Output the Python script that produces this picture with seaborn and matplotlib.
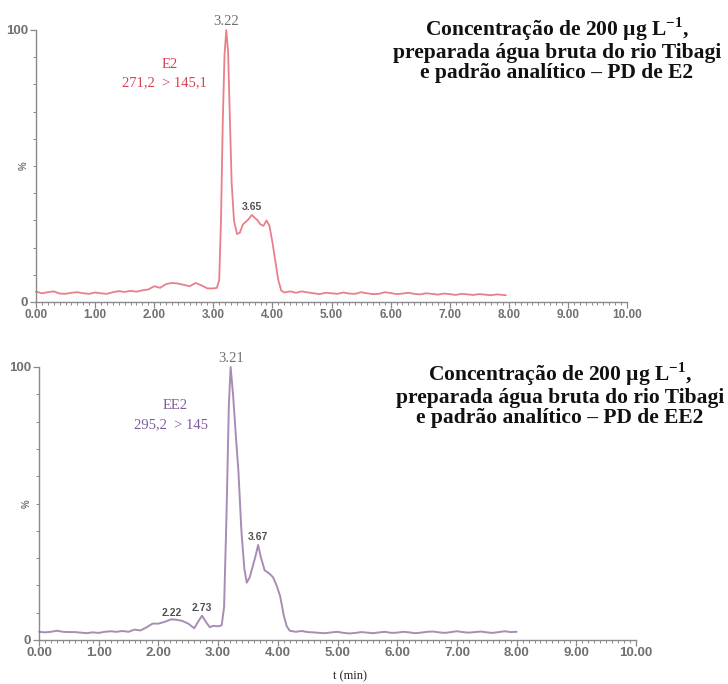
import matplotlib
matplotlib.use("Agg")
import matplotlib.pyplot as plt
from matplotlib.ticker import MultipleLocator, FixedLocator
import seaborn as sns
import pandas as pd

# E2 chromatogram, transition 271,2 > 145,1 (time in min, relative intensity in %)
e2_time = [0.00, 0.10, 0.20, 0.30, 0.40, 0.50, 0.60, 0.70, 0.80, 0.90,
           1.00, 1.10, 1.20, 1.30, 1.40, 1.50, 1.60, 1.70, 1.80, 1.90,
           2.00, 2.10, 2.20, 2.30, 2.40, 2.50, 2.60, 2.70, 2.80, 2.90,
           3.00, 3.06, 3.10, 3.13, 3.16, 3.19, 3.22, 3.25, 3.28, 3.31,
           3.35, 3.40, 3.45, 3.50, 3.55, 3.60, 3.65, 3.70, 3.75, 3.80,
           3.85, 3.90, 3.95, 4.00, 4.05, 4.10, 4.15, 4.20, 4.30, 4.40,
           4.50, 4.60, 4.70, 4.80, 4.90, 5.00, 5.10, 5.20, 5.30, 5.40,
           5.50, 5.60, 5.70, 5.80, 5.90, 6.00, 6.10, 6.20, 6.30, 6.40,
           6.50, 6.60, 6.70, 6.80, 6.90, 7.00, 7.10, 7.20, 7.30, 7.40,
           7.50, 7.60, 7.70, 7.80, 7.90, 7.95]
e2_signal = [3.8, 3.2, 3.6, 3.9, 3.1, 3.0, 3.4, 3.6, 3.2, 3.0,
             3.5, 3.2, 3.0, 3.6, 4.0, 3.7, 4.1, 3.8, 4.3, 4.6,
             5.8, 5.2, 6.6, 7.0, 6.8, 6.3, 5.8, 7.0, 6.1, 5.0,
             5.0, 5.2, 8.0, 30.0, 66.0, 91.0, 100.0, 92.0, 68.0, 44.0,
             30.0, 25.0, 25.5, 28.5, 29.5, 30.5, 32.0, 31.0, 30.0, 28.5,
             28.0, 30.0, 28.0, 22.0, 15.0, 8.0, 4.2, 3.5, 3.9, 3.4,
             3.9, 3.5, 3.2, 2.9, 3.4, 3.2, 3.0, 3.5, 3.1, 3.0,
             3.6, 3.2, 2.9, 3.0, 3.6, 3.3, 2.9, 3.1, 3.4, 3.0,
             2.8, 3.2, 3.0, 2.7, 3.1, 2.9, 2.6, 3.0, 2.8, 2.6,
             2.9, 2.7, 2.5, 2.8, 2.6, 2.5]

# EE2 chromatogram, transition 295,2 > 145
ee2_time = [0.00, 0.10, 0.20, 0.30, 0.40, 0.50, 0.60, 0.70, 0.80, 0.90,
            1.00, 1.10, 1.20, 1.30, 1.40, 1.50, 1.60, 1.70, 1.80, 1.90,
            2.00, 2.10, 2.22, 2.30, 2.40, 2.50, 2.60, 2.66, 2.73, 2.80,
            2.86, 2.92, 3.00, 3.06, 3.10, 3.14, 3.18, 3.21, 3.25, 3.30,
            3.34, 3.39, 3.44, 3.48, 3.53, 3.58, 3.63, 3.67, 3.72, 3.78,
            3.85, 3.92, 3.98, 4.04, 4.10, 4.15, 4.20, 4.30, 4.40, 4.50,
            4.60, 4.70, 4.80, 4.90, 5.00, 5.10, 5.20, 5.30, 5.40, 5.50,
            5.60, 5.70, 5.80, 5.90, 6.00, 6.10, 6.20, 6.30, 6.40, 6.50,
            6.60, 6.70, 6.80, 6.90, 7.00, 7.10, 7.20, 7.30, 7.40, 7.50,
            7.60, 7.70, 7.80, 7.90, 8.00]
ee2_signal = [3.0, 2.8, 3.0, 3.4, 3.0, 2.9, 2.9, 2.7, 2.5, 2.8,
              2.6, 3.0, 3.2, 3.0, 3.3, 3.0, 3.8, 3.5, 4.6, 6.0,
              6.0, 6.6, 7.6, 7.4, 7.0, 6.0, 4.3, 6.5, 8.9, 6.5,
              4.7, 5.2, 5.0, 5.4, 12.0, 45.0, 86.0, 100.0, 90.0, 74.0,
              62.0, 40.0, 26.0, 21.0, 23.0, 27.0, 31.0, 34.8, 30.0, 25.5,
              24.5, 23.0, 20.0, 16.0, 9.0, 5.0, 3.4, 3.0, 3.3, 2.9,
              2.8, 2.6, 2.5, 2.8, 3.0, 2.6, 2.4, 2.6, 2.9, 2.7,
              2.5, 2.8, 3.0, 2.6, 2.7, 3.0, 2.8, 2.5, 2.7, 3.0,
              3.1, 2.8, 2.6, 2.9, 3.2, 2.9, 2.7, 2.9, 3.1, 2.8,
              2.6, 2.9, 3.2, 2.9, 3.0]

e2_peaks = [3.22, 3.65]
ee2_peaks = [2.22, 2.73, 3.21, 3.67]
x_ticks = [0, 1, 2, 3, 4, 5, 6, 7, 8, 9, 10]

panel_titles = [
    "Concentração de 200 µg L$^{\\mathbf{-1}}$,\npreparada água bruta do rio Tibagi\ne padrão analítico – PD de E2",
    "Concentração de 200 µg L$^{\\mathbf{-1}}$,\npreparada água bruta do rio Tibagi\ne padrão analítico – PD de EE2",
]

sns.set_style("ticks")
plt.rcParams["mathtext.fontset"] = "custom"
plt.rcParams["mathtext.rm"] = "Liberation Serif"
plt.rcParams["mathtext.bf"] = "Liberation Serif:bold"

SERIF = ["Liberation Serif", "DejaVu Serif"]
SANS = ["Liberation Sans", "DejaVu Sans"]
AXIS_GREY = "#8a8a8a"
TICK_GREY = "#707070"

fig = plt.figure(figsize=(7.28, 6.84), dpi=100)
ax_top = fig.add_axes([36 / 728, 1 - 302 / 684, 591 / 728, 272 / 684])
ax_bot = fig.add_axes([39 / 728, 1 - 640 / 684, 597 / 728, 273 / 684])

df_e2 = pd.DataFrame({"t": e2_time, "y": e2_signal})
df_ee2 = pd.DataFrame({"t": ee2_time, "y": ee2_signal})

sns.lineplot(data=df_e2, x="t", y="y", ax=ax_top, color="#e8808a", lw=1.3,
             estimator=None, sort=False, clip_on=False)
sns.lineplot(data=df_ee2, x="t", y="y", ax=ax_bot, color="#a98cb5", lw=1.4,
             estimator=None, sort=False, clip_on=False)


def style_axis(ax, label_size, ylabel_size):
    ax.set_xlim(0, 10)
    ax.set_ylim(0, 100)
    for side in ("top", "right"):
        ax.spines[side].set_visible(False)
    for side in ("left", "bottom"):
        ax.spines[side].set_color(AXIS_GREY)
        ax.spines[side].set_linewidth(1.0)
    ax.xaxis.set_major_locator(FixedLocator(x_ticks))
    ax.xaxis.set_minor_locator(MultipleLocator(0.1))
    ax.yaxis.set_major_locator(FixedLocator([0, 100]))
    ax.yaxis.set_minor_locator(MultipleLocator(10))
    ax.set_xticklabels([f"{v:.2f}" for v in x_ticks])
    ax.set_yticklabels(["0", "100"])
    ax.tick_params(axis="both", which="both", bottom=True, left=True,
                   top=False, right=False)
    ax.tick_params(axis="both", which="major", direction="out", length=4,
                   width=0.9, color=AXIS_GREY, labelcolor=TICK_GREY,
                   labelsize=label_size, pad=1.5)
    ax.tick_params(axis="y", which="major", labelsize=ylabel_size)
    ax.tick_params(axis="both", which="minor", direction="out", length=2,
                   width=0.7, color=AXIS_GREY)
    ax.tick_params(axis="x", which="major", pad=1)
    for lab in ax.get_xticklabels() + ax.get_yticklabels():
        lab.set_fontfamily(SANS)
        lab.set_fontweight("bold")
    ax.set_xlabel("")
    ax.set_ylabel("%", fontsize=7, color=TICK_GREY, fontweight="bold",
                  family=SANS)
    ax.yaxis.set_label_coords(-0.012, 0.5)
    ax.set_facecolor("white")


style_axis(ax_top, 8.5, 9.5)
style_axis(ax_bot, 9.5, 9.5)


def value_at(times, values, t):
    return values[times.index(t)]


# main peak labels (serif, grey) and secondary peak labels (bold sans)
ax_top.annotate(f"{e2_peaks[0]:.2f}", (e2_peaks[0], value_at(e2_time, e2_signal, e2_peaks[0])),
                xytext=(0, 1.5), textcoords="offset points", ha="center", va="bottom",
                fontsize=10.5, color="#707070", family=SERIF, annotation_clip=False)
ax_top.annotate(f"{e2_peaks[1]:.2f}", (e2_peaks[1], value_at(e2_time, e2_signal, e2_peaks[1])),
                xytext=(0, 2), textcoords="offset points", ha="center", va="bottom",
                fontsize=7.5, color="#505050", family=SANS, fontweight="bold")

ax_bot.annotate(f"{ee2_peaks[2]:.2f}", (ee2_peaks[2], value_at(ee2_time, ee2_signal, ee2_peaks[2])),
                xytext=(0, 1.5), textcoords="offset points", ha="center", va="bottom",
                fontsize=10.5, color="#707070", family=SERIF, annotation_clip=False)
for pk, dy in ((ee2_peaks[0], 1), (ee2_peaks[1], 2), (ee2_peaks[3], 2)):
    ax_bot.annotate(f"{pk:.2f}", (pk, value_at(ee2_time, ee2_signal, pk)),
                    xytext=(0, dy), textcoords="offset points", ha="center", va="bottom",
                    fontsize=7.5, color="#505050", family=SANS, fontweight="bold")

# compound / transition labels
ax_top.text(2.27, 87.5, "E2", ha="center", va="center", fontsize=10.5,
            color="#d24452", family=SERIF)
ax_top.text(2.18, 80.5, "271,2  > 145,1", ha="center", va="center", fontsize=10.5,
            color="#d24452", family=SERIF)
ax_bot.text(2.28, 86, "EE2", ha="center", va="center", fontsize=10.5,
            color="#7d5d99", family=SERIF)
ax_bot.text(2.21, 78.8, "295,2  > 145", ha="center", va="center", fontsize=10.5,
            color="#7d5d99", family=SERIF)

# panel headings
fig.text(557 / 728, 1 - 15 / 684, panel_titles[0], ha="center", va="top",
         fontsize=15.5, fontweight="bold", family=SERIF, linespacing=1.0,
         color="#111111")
fig.text(560 / 728, 1 - 360 / 684, panel_titles[1], ha="center", va="top",
         fontsize=15.5, fontweight="bold", family=SERIF, linespacing=1.0,
         color="#111111")

fig.text(350 / 728, 1 - 676 / 684, "t (min)", ha="center", va="center",
         fontsize=9, family=SERIF, color="#222222")

fig.savefig("out.png", dpi=100, facecolor="white")
